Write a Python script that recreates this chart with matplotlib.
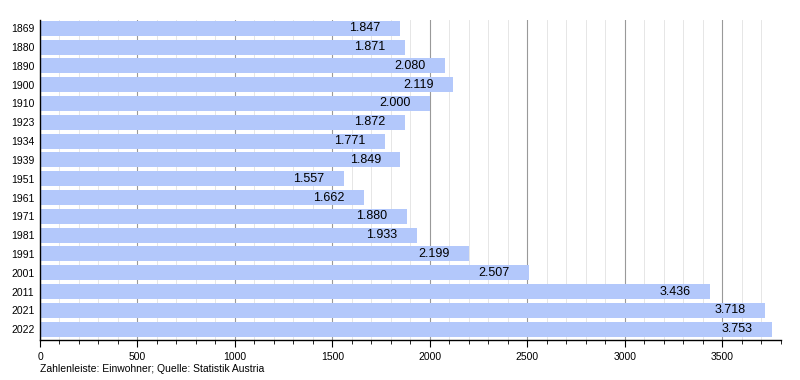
import matplotlib.pyplot as plt
from matplotlib.ticker import MultipleLocator

years = ['1869', '1880', '1890', '1900', '1910', '1923', '1934', '1939', '1951',
         '1961', '1971', '1981', '1991', '2001', '2011', '2021', '2022']
population = [1847, 1871, 2080, 2119, 2000, 1872, 1771, 1849, 1557,
              1662, 1880, 1933, 2199, 2507, 3436, 3718, 3753]

plt.rcParams['font.family'] = ['Liberation Sans', 'DejaVu Sans']

fig = plt.figure(figsize=(8, 3.8), dpi=100)
ax = fig.add_axes([0.05, 0.105, 0.926, 0.842])

pos = list(range(len(years)))
ax.barh(pos, population, height=0.8, color='#b3c8fb', zorder=2)

for p, v in zip(pos, population):
    label = f'{v // 1000}.{v % 1000:03d}'
    ax.annotate(label, xy=(v, p), xytext=(-14, 0), textcoords='offset points',
                ha='right', va='center', fontsize=9, color='black', zorder=3)

ax.set_yticks(pos)
ax.set_yticklabels(years, fontsize=7.5)
ax.set_ylim(16.58, -0.43)
ax.set_xlim(0, 3800)
ax.xaxis.set_major_locator(MultipleLocator(500))
ax.xaxis.set_minor_locator(MultipleLocator(100))
ax.tick_params(axis='x', labelsize=7.5, length=5, width=0.8, color='black')
ax.tick_params(axis='x', which='minor', length=3, width=0.6)
ax.tick_params(axis='y', length=0, pad=4)

ax.grid(axis='x', which='major', color='#999999', linewidth=0.8)
ax.grid(axis='x', which='minor', color='#e6e6e6', linewidth=0.7)
ax.set_axisbelow(True)

for s in ['top', 'right']:
    ax.spines[s].set_visible(False)
ax.spines['left'].set_linewidth(1)
ax.spines['bottom'].set_linewidth(1)

fig.text(0.05, 0.022, 'Zahlenleiste: Einwohner; Quelle: Statistik Austria', fontsize=7.5)

fig.savefig('out.png', dpi=100)
